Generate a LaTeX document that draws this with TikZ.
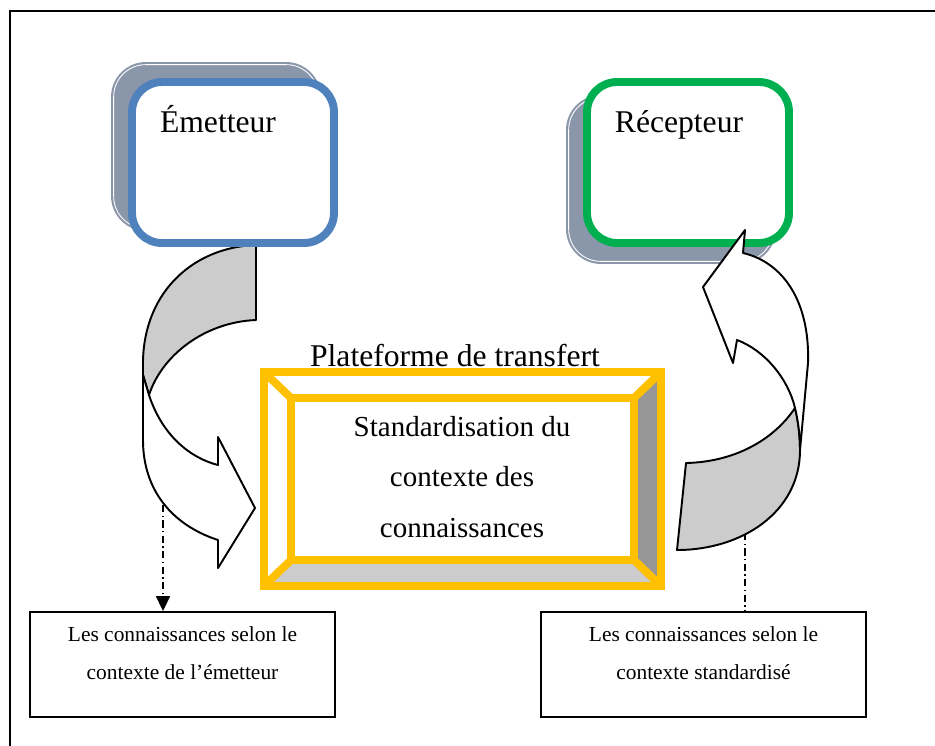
\documentclass[tikz,border=0pt]{standalone}
\usepackage{fontspec}
\setmainfont{Liberation Serif}
\usetikzlibrary{arrows.meta}
\definecolor{embl}{RGB}{79,129,189}
\definecolor{regr}{RGB}{0,176,80}
\definecolor{yel}{RGB}{255,192,0}
\definecolor{shad}{RGB}{138,150,170}
\definecolor{backg}{RGB}{204,204,204}
\definecolor{bevr}{RGB}{150,150,150}
\begin{document}
\begin{tikzpicture}[x=0.02cm,y=-0.02cm,
  shadowbox/.style={fill=shad, rounded corners=0.7cm, minimum width=4.2cm, minimum height=3.38cm, inner sep=0pt},
  shadline/.style={draw=white, line width=0.5pt, rounded corners=0.64cm},
  mainbox/.style={line width=4.5pt, rounded corners=0.6cm, fill=white, minimum width=4.04cm, minimum height=3.22cm, inner sep=0pt},
  bigtxt/.style={font=\fontsize{18}{21.6}\selectfont, inner sep=0pt},
  midtxt/.style={font=\fontsize{16.5}{28.6}\selectfont, align=center, inner sep=0pt},
  smalltxt/.style={font=\fontsize{12.2}{21.5}\selectfont, align=center, inner sep=0pt},
  arrowback/.style={fill=backg, draw=black, line width=1.1pt, line join=round},
  arrowfront/.style={fill=white, draw=black, line width=1.1pt, line join=round},
  yelbox/.style={draw=yel, line width=4.5pt, inner sep=0pt},
  yelline/.style={draw=yel, line width=4.5pt},
  lowbox/.style={draw=black, line width=1.1pt, minimum height=2.1cm, inner sep=0pt},
  conn/.style={line width=0.8pt, dash pattern=on 4pt off 2pt on 0.8pt off 2pt}
]
\useasboundingbox (0,0) rectangle (935,745);
% frame
\draw[line width=1.2pt] (10,770) -- (10,11) -- (960,11);

% bottom boxes
\node[lowbox, minimum width=6.1cm] (lbox) at (182.5,664.5) {};
\node[smalltxt, anchor=base] (ltxt) at (182.5,679) {Les connaissances selon le\\contexte de l’émetteur};
\node[lowbox, minimum width=6.5cm] (rbox) at (703.5,664.5) {};
\node[smalltxt, anchor=base] (rtxt) at (703.5,679) {Les connaissances selon le\\contexte standardisé};

% connectors
\coordinate (lc) at (163,505);
\draw[conn,-{Triangle[width=8pt,length=8.5pt]}] (lc) -- (lc |- lbox.north);
\coordinate (rc) at (745,533);
\draw[conn] (rc) -- (rc |- rbox.north);

% left curved arrow
\filldraw[arrowback] (256,245) -- (256,320)
  .. controls (205,322) and (162,355) .. (149,395)
  -- (143,375) -- (143,360)
  .. controls (145,290) and (195,247) .. (256,245) -- cycle;
\filldraw[arrowfront] (149,395)
  .. controls (162,435) and (190,458) .. (218,465)
  -- (218,437) -- (255,508) -- (218,568) -- (218,540)
  .. controls (172,525) and (143,490) .. (143,440)
  -- (143,375) -- cycle;

% emitter
\node[shadowbox] (emsh) at (216,146.5) {};
\draw[shadline] ([shift={(3,3)}]emsh.north west) rectangle ([shift={(-3,-3)}]emsh.south east);
\node[mainbox, draw=embl] (em) at (233,162.5) {};
\node[bigtxt, anchor=base] (emt) at (218,132) {Émetteur};

% receptor
\node[shadowbox] (resh) at (671,179.5) {};
\draw[shadline] ([shift={(3,3)}]resh.north west) rectangle ([shift={(-3,-3)}]resh.south east);
\node[mainbox, draw=regr] (re) at (688,162.5) {};
\node[bigtxt, anchor=base] (ret) at (679,132) {Récepteur};

% right curved arrow
\filldraw[arrowback] (686,463) -- (677,550)
  .. controls (742,550) and (800,512) .. (800,450)
  .. controls (800,435) and (798,420) .. (795,408)
  .. controls (772,442) and (732,462) .. (686,463) -- cycle;
\filldraw[arrowfront] (800,450) -- (808,363)
  .. controls (810,300) and (782,262) .. (743,253)
  -- (745,230) -- (703,287) -- (733,363) -- (737,340)
  .. controls (764,350) and (788,378) .. (795,408)
  .. controls (798,420) and (800,435) .. (800,450) -- cycle;

% transfer platform (bevel)
\fill[white] (264,372) -- (661,372) -- (634,398) -- (291,398) -- cycle;
\fill[white] (264,372) -- (291,398) -- (291,560) -- (264,586) -- cycle;
\fill[bevr] (661,372) -- (661,586) -- (634,560) -- (634,398) -- cycle;
\fill[backg] (264,586) -- (661,586) -- (634,560) -- (291,560) -- cycle;
\begin{scope}
  \clip (264,372) rectangle (661,586);
  \draw[yelline] (264,372) -- (291,398);
  \draw[yelline] (661,372) -- (634,398);
  \draw[yelline] (264,586) -- (291,560);
  \draw[yelline] (661,586) -- (634,560);
\end{scope}
\node[yelbox, minimum width=7.94cm, minimum height=4.28cm] (plat) at (462.5,479) {};
\node[yelbox, minimum width=6.86cm, minimum height=3.24cm] (std) at (462.5,479) {};
\node[bigtxt, anchor=base] (platt) at (455,366) {Plateforme de transfert};
\node[midtxt, anchor=base] (stdt) at (462,537) {Standardisation du\\contexte des\\connaissances};
\end{tikzpicture}
\end{document}
